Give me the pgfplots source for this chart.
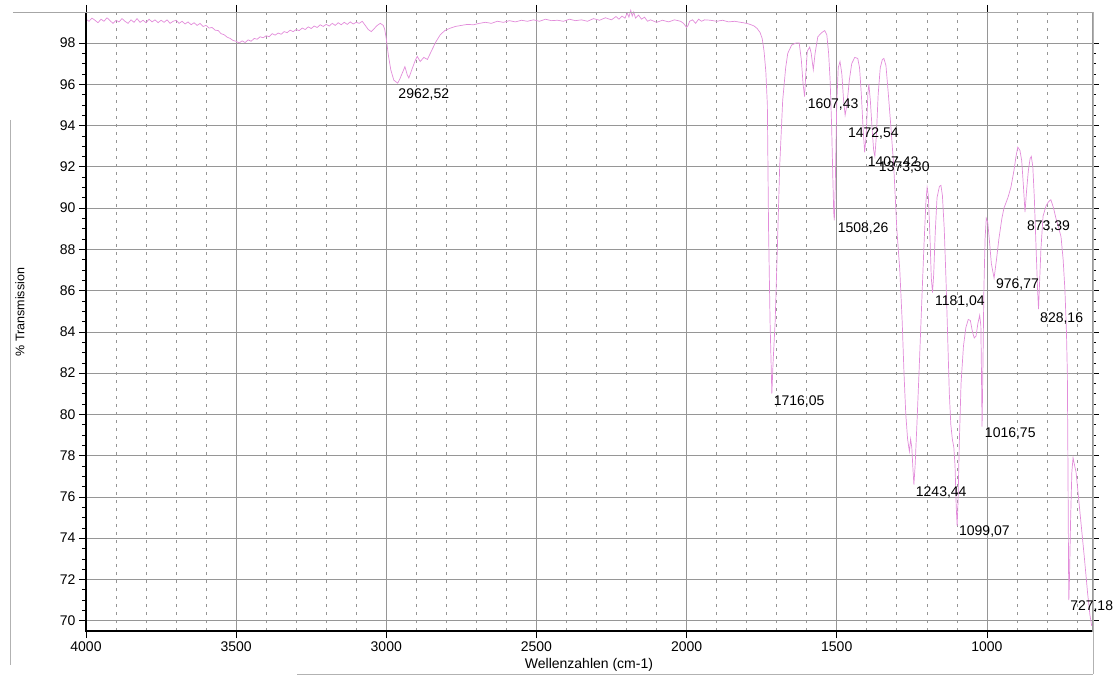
\documentclass[border=0pt]{standalone}
\usepackage{fontspec}
\setmainfont{Liberation Sans}
\usepackage{pgfplots}
\pgfplotsset{compat=1.18}
\definecolor{spec}{RGB}{226,140,218}
\definecolor{gridc}{RGB}{150,150,150}
\begin{document}
\begin{tikzpicture}
\useasboundingbox (-86pt,-47pt) rectangle (1031pt,631pt);
\begin{axis}[
  at={(0pt,0pt)}, anchor=south west,
  scale only axis, width=1006pt, height=619pt,
  x dir=reverse, xmin=650, xmax=4000, ymin=69.5, ymax=99.5,
  clip=false,
  xtick={1000,1500,2000,2500,3000,3500,4000},
  minor xtick={700,800,900,1100,1200,1300,1400,1600,1700,1800,1900,2100,2200,2300,2400,2600,2700,2800,2900,3100,3200,3300,3400,3600,3700,3800,3900},
  ytick={70,72,...,98},
  minor y tick num=3,
  xmajorgrids=true, xminorgrids=true, ymajorgrids=true,
  major grid style={gridc, line width=0.6pt},
  minor grid style={gridc, line width=0.6pt, dash pattern=on 3pt off 5pt},
  tick align=outside,
  major tick length=7pt, minor tick length=4pt,
  minor x tick style={draw=none},
  major x tick style={black, line width=0.5pt},
  every tick/.style={black, line width=0.5pt},
  axis line style={draw=gray!80, line width=0.6pt},
  /pgf/number format/1000 sep={},
  /pgf/number format/assume math mode=true,
  tick label style={font=\fontsize{14}{16}\selectfont},
  xlabel={Wellenzahlen (cm-1)},
  ylabel={\% Transmission},
  every axis x label/.style={at={(axis description cs:0.5,-0.055)}, anchor=center, font=\fontsize{14}{16}\selectfont},
  every axis y label/.style={at={(axis description cs:-0.0656,0.515)}, rotate=90, anchor=center, font=\fontsize{12.5}{15}\selectfont},
]
\addplot[spec, line width=0.7pt] coordinates {
(4000,99.15)(3990,99.05)(3980,99.20)(3970,99.10)(3960,98.98)(3950,99.15)(3940,99.05)(3930,99.22)(3920,99.08)(3910,98.95)
(3900,99.10)(3890,99.02)(3880,99.18)(3870,99.05)(3860,98.95)(3850,99.12)(3840,99.00)(3830,99.18)(3820,99.00)(3810,99.10)
(3800,98.98)(3790,99.15)(3780,99.02)(3770,99.12)(3760,98.98)(3750,99.10)(3740,99.00)(3730,99.12)(3720,98.95)(3710,99.05)
(3700,99.10)(3690,98.95)(3680,99.05)(3670,98.92)(3660,99.02)(3650,98.88)(3640,98.98)(3630,98.85)(3620,98.95)(3610,98.80)
(3600,98.85)(3590,98.72)(3580,98.75)(3570,98.62)(3560,98.60)(3550,98.45)(3540,98.40)(3530,98.28)(3520,98.22)(3510,98.12)
(3500,98.08)(3490,98.00)(3480,98.10)(3470,98.02)(3460,98.15)(3450,98.08)(3440,98.22)(3430,98.18)(3420,98.30)(3410,98.25)
(3400,98.35)(3390,98.30)(3380,98.45)(3370,98.38)(3360,98.48)(3350,98.42)(3340,98.55)(3330,98.50)(3320,98.62)(3310,98.55)
(3300,98.65)(3290,98.60)(3280,98.72)(3270,98.65)(3260,98.78)(3250,98.70)(3240,98.82)(3230,98.75)(3220,98.88)(3210,98.80)
(3200,98.90)(3190,98.82)(3180,98.95)(3170,98.85)(3160,98.98)(3150,98.88)(3140,99.00)(3130,98.90)(3120,99.02)(3110,98.92)
(3100,99.00)(3090,98.95)(3080,99.05)(3070,98.85)(3060,98.65)(3050,98.55)(3040,98.70)(3030,98.85)(3020,98.95)(3010,98.85)
(3005,98.65)(3000,98.20)(2993,97.40)(2985,96.70)(2975,96.20)(2962,96.05)(2955,96.25)(2945,96.60)(2938,96.85)(2930,96.45)
(2925,96.30)(2915,96.70)(2905,97.10)(2897,97.35)(2887,97.10)(2875,97.30)(2863,97.20)(2850,97.60)(2835,98.05)(2820,98.40)
(2805,98.60)(2790,98.70)(2770,98.80)(2750,98.85)(2730,98.90)(2710,98.88)(2690,98.95)(2670,99.00)(2650,98.95)(2630,99.05)
(2610,99.00)(2590,99.08)(2570,99.02)(2550,99.10)(2530,99.05)(2510,99.12)(2490,99.05)(2470,99.15)(2450,99.08)(2430,99.10)
(2410,99.05)(2390,99.15)(2370,99.08)(2350,99.12)(2330,99.05)(2310,99.18)(2290,99.10)(2270,99.22)(2250,99.12)(2235,99.28)
(2225,99.15)(2215,99.30)(2205,99.20)(2198,99.45)(2192,99.25)(2186,99.58)(2181,99.30)(2176,99.50)(2170,99.20)(2160,99.35)
(2150,99.15)(2140,99.25)(2130,99.05)(2120,99.12)(2100,99.00)(2080,99.10)(2060,99.02)(2040,99.12)(2020,99.05)(2010,98.95)
(2000,98.75)(1995,98.85)(1990,99.05)(1980,99.12)(1970,98.95)(1960,99.15)(1950,99.05)(1940,99.12)(1920,99.10)(1900,99.05)
(1880,99.10)(1860,99.02)(1840,99.05)(1820,99.00)(1800,98.95)(1785,98.88)(1775,98.82)(1765,98.70)(1755,98.50)(1748,98.20)
(1742,97.60)(1736,96.60)(1731,95.00)(1727,89.00)(1722,84.50)(1716,81.00)(1712,82.50)(1705,84.50)(1697,88.40)(1690,92.00)
(1680,95.20)(1670,96.80)(1663,97.50)(1650,97.90)(1635,98.00)(1625,98.00)(1618,97.20)(1612,96.00)(1607,95.40)(1603,96.50)
(1598,97.60)(1590,97.80)(1585,97.50)(1578,96.70)(1572,97.50)(1563,98.30)(1550,98.50)(1540,98.60)(1533,98.40)(1527,97.50)
(1522,96.20)(1517,94.00)(1513,91.50)(1510,89.80)(1508,89.40)(1505,91.00)(1500,95.00)(1495,96.80)(1489,97.10)(1483,96.50)
(1477,95.20)(1472,94.50)(1466,95.00)(1458,96.20)(1450,97.00)(1440,97.30)(1430,97.25)(1424,96.80)(1418,95.50)(1412,93.80)
(1407,92.70)(1402,93.50)(1396,95.60)(1393,96.00)(1388,95.20)(1382,93.80)(1377,92.80)(1373,92.50)(1368,93.50)(1362,95.50)
(1355,96.80)(1348,97.20)(1343,97.25)(1336,96.90)(1328,95.50)(1320,94.00)(1310,92.00)(1300,89.00)(1290,87.00)(1282,84.50)
(1276,82.00)(1270,80.00)(1264,78.80)(1258,78.20)(1254,78.80)(1250,78.40)(1246,77.30)(1243,76.60)(1239,77.50)(1233,79.50)
(1226,82.00)(1218,85.00)(1210,88.00)(1203,90.30)(1199,91.00)(1195,90.60)(1190,88.80)(1185,86.60)(1181,85.90)(1177,86.80)
(1172,88.80)(1166,90.50)(1158,91.05)(1153,91.10)(1148,90.60)(1142,89.00)(1136,86.50)(1130,83.50)(1125,81.00)(1120,79.50)
(1115,78.80)(1110,78.40)(1106,77.50)(1102,75.50)(1099,74.60)(1096,75.80)(1092,78.50)(1086,81.50)(1078,83.30)(1070,84.20)
(1062,84.60)(1055,84.55)(1048,84.00)(1042,83.70)(1036,83.80)(1030,84.40)(1024,84.80)(1020,84.30)(1018,82.00)(1016,79.40)
(1013,82.50)(1010,86.00)(1006,88.50)(1002,89.50)(997,89.30)(992,88.50)(985,87.30)(976,86.60)(968,87.50)(960,88.50)
(950,89.50)(943,90.00)(930,90.50)(920,91.00)(910,91.80)(903,92.50)(897,92.95)(890,92.80)(884,92.30)(878,91.00)
(873,89.80)(868,90.80)(862,91.80)(856,92.40)(852,92.50)(847,92.00)(842,90.50)(836,88.00)(831,86.00)(828,85.10)
(825,86.20)(820,88.00)(813,89.60)(803,90.10)(795,90.30)(787,90.40)(778,90.00)(770,89.50)(760,89.00)(753,88.60)
(746,87.50)(740,86.00)(735,84.00)(732,82.00)(730,77.50)(728,72.50)(727,71.00)(725,72.00)(721,75.00)(717,77.20)
(713,77.90)(709,77.60)(703,77.20)(695,76.00)(685,74.50)(675,73.00)(665,71.40)(657,70.30)(651,69.75)
};
\node[anchor=west, inner sep=0pt, font=\fontsize{14}{16}\selectfont] at (axis cs:2960,95.52) {2962,52};
\node[anchor=west, inner sep=0pt, font=\fontsize{14}{16}\selectfont] at (axis cs:1597,95.04) {1607,43};
\node[anchor=west, inner sep=0pt, font=\fontsize{14}{16}\selectfont] at (axis cs:1463,93.63) {1472,54};
\node[anchor=west, inner sep=0pt, font=\fontsize{14}{16}\selectfont] at (axis cs:1397,92.22) {1407,42};
\node[anchor=west, inner sep=0pt, font=\fontsize{14}{16}\selectfont] at (axis cs:1360,91.98) {1373,30};
\node[anchor=west, inner sep=0pt, font=\fontsize{14}{16}\selectfont] at (axis cs:1497,89.02) {1508,26};
\node[anchor=west, inner sep=0pt, font=\fontsize{14}{16}\selectfont] at (axis cs:867,89.12) {873,39};
\node[anchor=west, inner sep=0pt, font=\fontsize{14}{16}\selectfont] at (axis cs:970,86.30) {976,77};
\node[anchor=west, inner sep=0pt, font=\fontsize{14}{16}\selectfont] at (axis cs:1173,85.48) {1181,04};
\node[anchor=west, inner sep=0pt, font=\fontsize{14}{16}\selectfont] at (axis cs:823,84.65) {828,16};
\node[anchor=west, inner sep=0pt, font=\fontsize{14}{16}\selectfont] at (axis cs:1710,80.62) {1716,05};
\node[anchor=west, inner sep=0pt, font=\fontsize{14}{16}\selectfont] at (axis cs:1007,79.07) {1016,75};
\node[anchor=west, inner sep=0pt, font=\fontsize{14}{16}\selectfont] at (axis cs:1237,76.20) {1243,44};
\node[anchor=west, inner sep=0pt, font=\fontsize{14}{16}\selectfont] at (axis cs:1093,74.30) {1099,07};
\node[anchor=west, inner sep=0pt, font=\fontsize{14}{16}\selectfont] at (axis cs:723,70.67) {727,18};
\end{axis}
\draw[black, line width=2.2pt] (0pt,619pt) -- (0pt,0pt) -- (1006pt,0pt);
\draw[gray!70, line width=0.6pt] (-73pt,619pt) -- (1007pt,619pt);
\draw[gray!60, line width=0.8pt] (-76pt,511pt) -- (-76pt,-34pt);
\draw[gray!60, line width=0.8pt] (211pt,-43pt) -- (1007pt,-43pt);
\draw[gray!60, line width=0.6pt] (1007pt,619pt) -- (1007pt,-43pt);
\end{tikzpicture}
\end{document}
